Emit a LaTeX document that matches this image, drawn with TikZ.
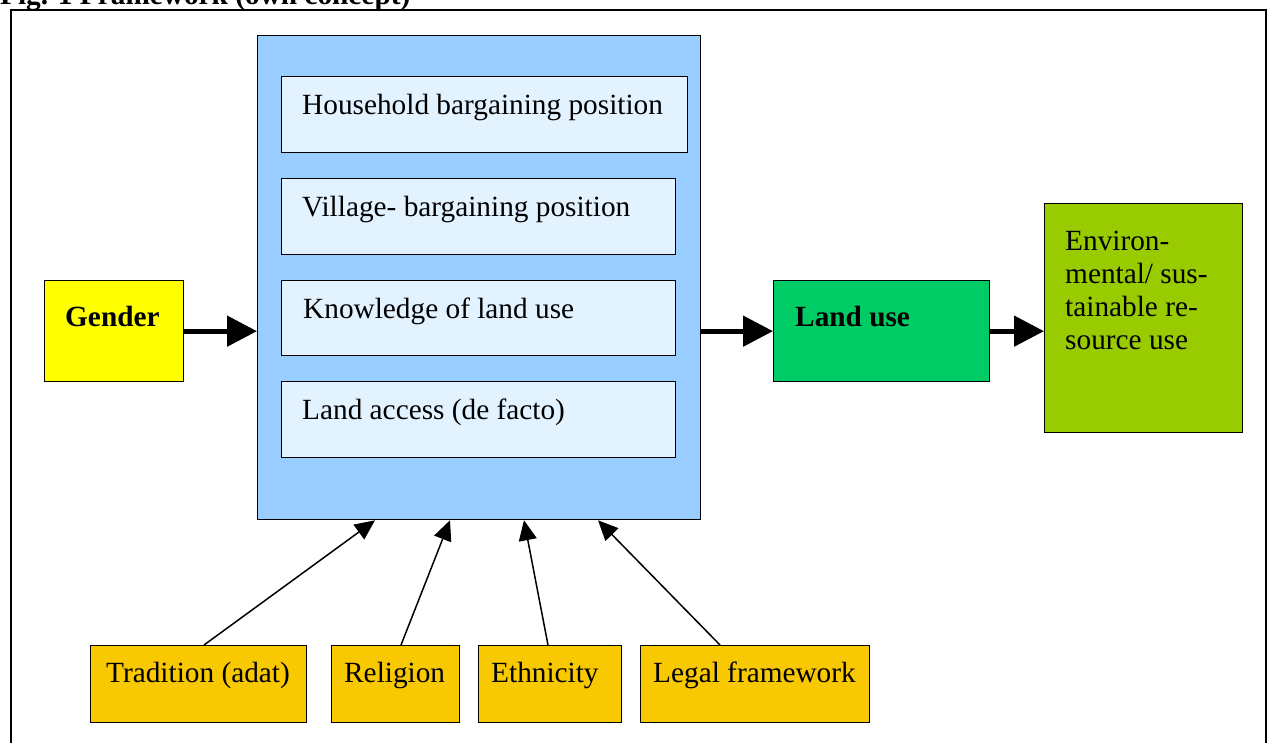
\documentclass[tikz,border=0pt]{standalone}
\usepackage{fontspec}
\setmainfont{Liberation Serif}
\usetikzlibrary{arrows.meta,calc}
\definecolor{bigblue}{HTML}{99CCFF}
\definecolor{lightblue}{HTML}{E2F2FF}
\definecolor{gendery}{HTML}{FFFF00}
\definecolor{landg}{HTML}{00CC66}
\definecolor{envg}{HTML}{99CC00}
\definecolor{factor}{HTML}{F8C800}
\begin{document}
\begin{tikzpicture}[x=1pt,y=-1pt,
  box/.style={draw=black,line width=1.3pt,anchor=north west,inner sep=0pt},
  txt/.style={anchor=base west,inner sep=0pt,font=\fontsize{29.3}{33}\selectfont},
  bold/.style={txt,font=\fontsize{29.3}{33}\selectfont\bfseries},
  thick arrow/.style={line width=5pt,-{Triangle[length=30pt,width=30pt]}},
  thin arrow/.style={line width=1.5pt,-{Triangle[length=20pt,width=18pt]}}]
\useasboundingbox (0,0) rectangle (1267,742);
% title (cut off at top)
\node[bold] (title) at (0,4) {Fig. 1 Framework (own concept)};
% frame
\draw[line width=2pt] (11,745) -- (11,10) -- (1266,10) -- (1266,745);
% big box
\node[box,fill=bigblue,minimum width=443pt,minimum height=484pt] (big) at (257,35) {};
\node[box,fill=lightblue,minimum width=406pt,minimum height=76pt] (hh) at (281,76) {};
\node[box,fill=lightblue,minimum width=394pt,minimum height=76pt] (vil) at (281,178) {};
\node[box,fill=lightblue,minimum width=394pt,minimum height=75pt] (know) at (281,280) {};
\node[box,fill=lightblue,minimum width=394pt,minimum height=76pt] (acc) at (281,381) {};
\node[txt] (hht) at (302,114) {Household bargaining position};
\node[txt] (vilt) at (302,216) {Village- bargaining position};
\node[txt] (knowt) at (303,318) {Knowledge of land use};
\node[txt] (acct) at (302,419) {Land access (de facto)};
% gender, land use, env
\node[box,fill=gendery,minimum width=139pt,minimum height=101pt] (gender) at (44,280) {};
\node[bold] (gendert) at (65,326) {Gender};
\node[box,fill=landg,minimum width=216pt,minimum height=101pt] (land) at (773,280) {};
\node[bold] (landt) at (795,326) {Land use};
\node[box,fill=envg,minimum width=198pt,minimum height=229pt] (env) at (1044,203) {};
\node[txt,align=left,anchor=north west] (envt) at (1065,231) {Environ-\\mental/ sus-\\tainable re-\\source use};
% factors
\node[box,fill=factor,minimum width=216pt,minimum height=77pt] (trad) at (90,645) {};
\node[box,fill=factor,minimum width=128pt,minimum height=77pt] (rel) at (331,645) {};
\node[box,fill=factor,minimum width=143pt,minimum height=77pt] (eth) at (478,645) {};
\node[box,fill=factor,minimum width=229pt,minimum height=77pt] (leg) at (640,645) {};
\node[txt] (tradt) at (106,682) {Tradition (adat)};
\node[txt] (relt) at (344,682) {Religion};
\node[txt] (etht) at (491,682) {Ethnicity};
\node[txt] (legt) at (653,682) {Legal framework};
% arrows
\draw[thick arrow] (gender.east) -- (gender.east -| big.west);
\draw[thick arrow] (big.east |- land.west) -- (land.west);
\draw[thick arrow] (land.east) -- (land.east -| env.west);
\draw[thin arrow] ($(trad.north west)+(114,0)$) -- ($(big.south west)+(118,0)$);
\draw[thin arrow] ($(rel.north west)+(70,0)$) -- ($(big.south west)+(193,0)$);
\draw[thin arrow] ($(eth.north west)+(70,0)$) -- ($(big.south west)+(267,0)$);
\draw[thin arrow] ($(leg.north west)+(80,0)$) -- ($(big.south west)+(341,0)$);
\end{tikzpicture}
\end{document}
